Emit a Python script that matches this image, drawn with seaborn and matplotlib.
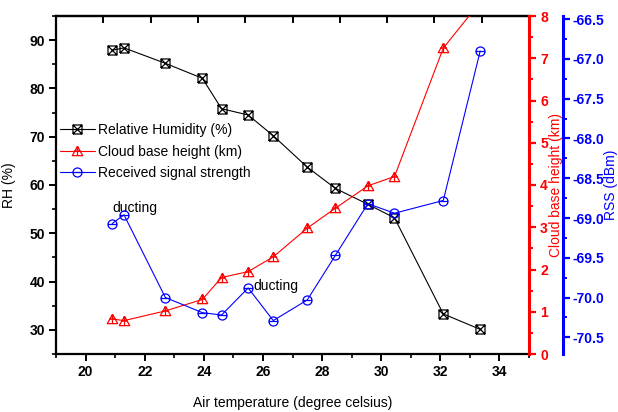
import numpy as np
import pandas as pd
import matplotlib
matplotlib.use("Agg")
import matplotlib.pyplot as plt
from matplotlib.path import Path
from matplotlib.ticker import MultipleLocator, FormatStrFormatter, NullFormatter
import seaborn as sns

# data
air_temp = [20.9, 21.3, 22.7, 23.95, 24.6, 25.5, 26.35, 27.5, 28.45, 29.55, 30.45, 32.1, 33.35]
rh = [87.9, 88.4, 85.2, 82.1, 75.8, 74.5, 70.2, 63.7, 59.3, 56.0, 53.2, 33.3, 30.1]
cloud_base = [0.83, 0.79, 1.02, 1.29, 1.81, 1.95, 2.30, 2.98, 3.45, 3.98, 4.20, 7.24, 8.33]
rss = [-69.07, -68.96, -70.00, -70.19, -70.22, -69.88, -70.29, -70.03, -69.47, -68.82, -68.94, -68.78, -66.90]

df = pd.DataFrame({"temp": air_temp, "rh": rh, "cbh": cloud_base, "rss": rss})

sns.set_theme(style="ticks")
plt.rcParams["font.family"] = ["Liberation Sans", "DejaVu Sans"]
plt.rcParams.update({"text.color": "black", "axes.labelcolor": "black",
                     "xtick.color": "black", "ytick.color": "black",
                     "axes.edgecolor": "black"})

# Origin-like markers
M, L = Path.MOVETO, Path.LINETO
box_x = Path([(-1, -1), (1, -1), (1, 1), (-1, 1), (-1, -1), (-1, -1), (1, 1), (-1, 1), (1, -1)],
             [M, L, L, L, L, M, L, M, L])
tri_plus = Path([(0, 1), (-1, -0.8), (1, -0.8), (0, 1), (0, 1), (0, -0.8), (-0.55, 0.1), (0.55, 0.1)],
                [M, L, L, L, M, L, M, L])
circ = Path.unit_circle()
circ_minus = Path.make_compound_path(circ, Path([(-1, 0), (1, 0)], [M, L]))

fig = plt.figure(figsize=(6.18, 4.12), dpi=100)
ax = fig.add_axes([56 / 618, 1 - 354 / 412, (529 - 56) / 618, (354 - 16) / 412])
ax2 = ax.twinx()
ax3 = ax.twinx()

sns.lineplot(data=df, x="temp", y="rh", ax=ax, color="black", lw=0.8,
             marker=box_x, ms=6.5, mfc="none", mec="black", mew=0.9, label="Relative Humidity (%)", legend=False)
sns.lineplot(data=df, x="temp", y="cbh", ax=ax2, color="red", lw=0.8,
             marker=tri_plus, ms=7.5, mfc="none", mec="red", mew=0.9, label="Cloud base height (km)", legend=False)
sns.lineplot(data=df, x="temp", y="rss", ax=ax3, color="blue", lw=0.8,
             marker=circ_minus, ms=6.5, mfc="none", mec="blue", mew=0.9, label="Received signal strength", legend=False)

# main axes
ax.set_xlim(19, 35)
ax.set_ylim(25, 95)
ax.xaxis.set_major_locator(MultipleLocator(2))
ax.xaxis.set_minor_locator(MultipleLocator(1))
ax.yaxis.set_major_locator(MultipleLocator(10))
ax.yaxis.set_minor_locator(MultipleLocator(5))
ax.spines["right"].set_visible(False)
for s in ["left", "bottom", "top"]:
    ax.spines[s].set_linewidth(1.6)
ax.tick_params(which="major", direction="out", length=5, width=1.4, labelsize=10, pad=3)
ax.tick_params(which="minor", direction="out", length=3, width=1.2)
ax.tick_params(top=False, right=False, which="both")
ax.set_xlabel("Air temperature (degree celsius)", fontsize=10, labelpad=12)
ax.set_ylabel("RH (%)", fontsize=10, labelpad=10)

# top ticks from another layer (10 divisions)
top = ax.secondary_xaxis("top", functions=(lambda x: (x - 19) / 1.6, lambda t: t * 1.6 + 19))
top.set_xticks(range(0, 11))
top.xaxis.set_major_formatter(NullFormatter())
top.tick_params(direction="in", length=5, width=1.4)
top.spines["top"].set_linewidth(1.6)

# cloud base height axis
ax2.set_ylim(0, 8)
ax2.yaxis.set_major_locator(MultipleLocator(1))
ax2.yaxis.set_minor_locator(MultipleLocator(0.5))
for s in ["left", "top", "bottom"]:
    ax2.spines[s].set_visible(False)
ax2.spines["right"].set_color("red")
ax2.spines["right"].set_linewidth(2.2)
ax2.tick_params(axis="y", which="major", colors="red", direction="out", length=5, width=1.6, labelsize=10, pad=3)
ax2.tick_params(axis="y", which="minor", colors="red", direction="out", length=3, width=1.4)
ax2.set_ylabel("Cloud base height (km)", color="red", fontsize=10, labelpad=1, rotation=90)

# RSS axis
ax3.set_ylim(-70.71, -66.46)
ax3.yaxis.set_major_locator(MultipleLocator(0.5))
ax3.yaxis.set_minor_locator(MultipleLocator(0.25))
ax3.yaxis.set_major_formatter(FormatStrFormatter("%.1f"))
for s in ["left", "top", "bottom"]:
    ax3.spines[s].set_visible(False)
ax3.spines["right"].set_position(("axes", 1 + 34 / 473))
ax3.spines["right"].set_color("blue")
ax3.spines["right"].set_linewidth(2.2)
ax3.tick_params(axis="y", which="major", colors="blue", direction="out", length=5, width=1.6, labelsize=10, pad=2)
ax3.tick_params(axis="y", which="minor", colors="blue", direction="out", length=3, width=1.4)
ax3.set_ylabel("RSS (dBm)", color="blue", fontsize=10, labelpad=0, rotation=90)

for a in (ax, ax2, ax3):
    for lab in a.get_xticklabels() + a.get_yticklabels():
        lab.set_fontweight("bold")

ax.text(20.9, 55.3, "ducting", fontsize=10, ha="left", va="center")
ax.text(25.66, 39.1, "ducting", fontsize=10, ha="left", va="center")

handles = [ax.lines[0], ax2.lines[0], ax3.lines[0]]
ax3.legend(handles, [h.get_label() for h in handles], loc="upper left",
           bbox_to_anchor=(60 / 618, 1 - 123 / 412), bbox_transform=fig.transFigure,
           frameon=False, fontsize=10, borderpad=0, borderaxespad=0,
           handlelength=2.5, handletextpad=0.25, labelspacing=0.55)

ax2.set_xlabel("")
ax3.set_xlabel("")
fig.savefig("out.png", dpi=100)
